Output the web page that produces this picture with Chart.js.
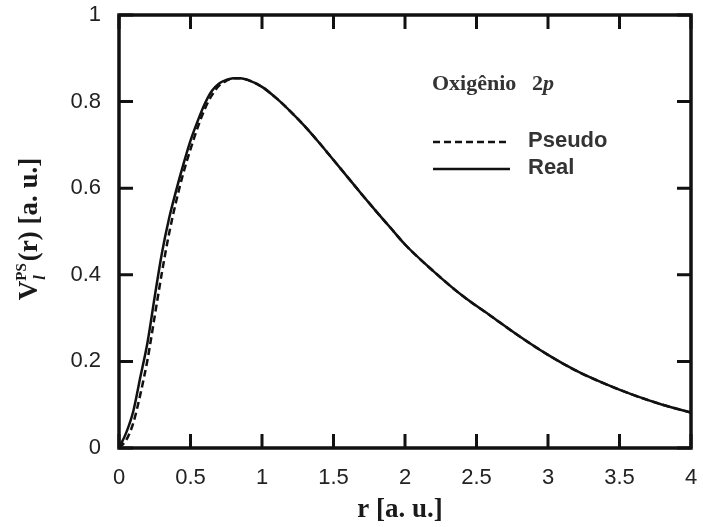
<!DOCTYPE html>
<html><head><meta charset="utf-8">
<script src="https://cdn.jsdelivr.net/npm/chart.js@4.4.0/dist/chart.umd.min.js"></script>
<style>html,body{margin:0;padding:0;background:#fff}</style>
</head><body>
<canvas id="c" width="703" height="527"></canvas>
<script>
// ---- data ----
const rValues = [0,0.05,0.1,0.15,0.2,0.25,0.3,0.35,0.4,0.45,0.5,0.55,0.6,0.65,0.7,0.75,0.8,0.85,0.9,1.0,1.1,1.2,1.3,1.4,1.5,1.6,1.7,1.8,1.9,2.0,2.2,2.4,2.6,2.8,3.0,3.2,3.4,3.6,3.8,4.0];
const realValues = [0,0.035,0.085,0.165,0.245,0.35,0.45,0.53,0.595,0.655,0.71,0.755,0.795,0.825,0.842,0.85,0.854,0.854,0.85,0.834,0.808,0.777,0.743,0.705,0.665,0.625,0.585,0.546,0.508,0.47,0.408,0.352,0.305,0.258,0.215,0.178,0.148,0.122,0.10,0.082];
const pseudoValues = [0,0.018,0.058,0.125,0.205,0.305,0.405,0.495,0.57,0.635,0.69,0.74,0.783,0.815,0.837,0.848,0.854,0.854,0.85,0.834,0.808,0.777,0.743,0.705,0.665,0.625,0.585,0.546,0.508,0.47,0.408,0.352,0.305,0.258,0.215,0.178,0.148,0.122,0.10,0.082];
const seriesLabels = ['Pseudo', 'Real'];
const xTickValues = [0,0.5,1,1.5,2,2.5,3,3.5,4];
const yTickValues = [0,0.2,0.4,0.6,0.8,1];
const xTitle = 'r [a. u.]';
const yTitleMain = 'V', yTitleSup = 'PS', yTitleSub = 'l', yTitleRest = '(r) [a. u.]';
const noteText = 'Oxigênio ', noteNum = '2', noteVar = 'p';

const toPts = (ys) => rValues.map((r, i) => ({x: r, y: ys[i]}));

const decor = {
  id: 'decor',
  afterDatasetsDraw(chart) {
    const {ctx, chartArea: a, scales: {x, y}} = chart;
    ctx.save();
    ctx.strokeStyle = '#111';
    ctx.lineCap = 'butt';
    ctx.lineWidth = 3;
    const tl = 14;
    xTickValues.forEach(v => {
      const px = x.getPixelForValue(v);
      ctx.beginPath(); ctx.moveTo(px, a.bottom); ctx.lineTo(px, a.bottom - tl);
      ctx.moveTo(px, a.top); ctx.lineTo(px, a.top + tl); ctx.stroke();
    });
    yTickValues.forEach(v => {
      const py = y.getPixelForValue(v);
      ctx.beginPath(); ctx.moveTo(a.left, py); ctx.lineTo(a.left + tl, py);
      ctx.moveTo(a.right, py); ctx.lineTo(a.right - tl, py); ctx.stroke();
    });
    ctx.lineWidth = 3.5;
    ctx.strokeRect(a.left, a.top, a.right - a.left, a.bottom - a.top);

    // x title
    ctx.fillStyle = '#1a1a1a';
    ctx.font = 'bold 27px "Liberation Serif", "DejaVu Serif", serif';
    ctx.textAlign = 'center'; ctx.textBaseline = 'alphabetic';
    ctx.fillText(xTitle, 400, 517);

    // y title (rotated)
    ctx.save();
    ctx.translate(37, 229);
    ctx.rotate(-Math.PI / 2);
    ctx.textAlign = 'left';
    const big = 'bold 27px "Liberation Serif", serif';
    const small = 'bold 15px "Liberation Serif", serif';
    const smallIt = 'italic bold 16px "Liberation Serif", serif';
    ctx.font = big; const wV = ctx.measureText(yTitleMain).width;
    ctx.font = small; const wS = ctx.measureText(yTitleSup).width;
    ctx.font = big; const wR = ctx.measureText(yTitleRest).width;
    const total = wV + wS + 2 + wR;
    let cx = -total / 2;
    ctx.font = big; ctx.fillText(yTitleMain, cx, 0); cx += wV;
    ctx.font = small; ctx.fillText(yTitleSup, cx, -11);
    ctx.font = smallIt; ctx.fillText(yTitleSub, cx + 1, 8);
    cx += wS + 2;
    ctx.font = big; ctx.fillText(yTitleRest, cx, 0);
    ctx.restore();

    // annotation "Oxigênio 2p"
    ctx.fillStyle = '#333';
    ctx.textAlign = 'left';
    ctx.font = 'bold 22px "Liberation Serif", serif';
    ctx.fillText(noteText, 432, 90);
    ctx.fillText(noteNum, 532, 90);
    const w2 = ctx.measureText(noteNum).width;
    ctx.font = 'italic bold 22px "Liberation Serif", serif';
    ctx.fillText(noteVar, 532 + w2, 90);

    // legend
    const rows = [142, 169];
    chart.data.datasets.forEach((ds, i) => {
      const ry = rows[i];
      ctx.strokeStyle = ds.borderColor;
      ctx.lineWidth = 2.5;
      ctx.setLineDash(ds.borderDash || []);
      ctx.beginPath(); ctx.moveTo(433, ry); ctx.lineTo(510, ry); ctx.stroke();
      ctx.setLineDash([]);
      ctx.fillStyle = '#333';
      ctx.font = 'bold 22px "Liberation Sans", Arial, sans-serif';
      ctx.textBaseline = 'middle';
      ctx.fillText(ds.label, 528, ry - 1);
      ctx.textBaseline = 'alphabetic';
    });
    ctx.restore();
  }
};

const tickFont = {family: '"Liberation Sans", Arial, sans-serif', size: 22};
new Chart(document.getElementById('c'), {
  type: 'scatter',
  data: {
    datasets: [
      {label: seriesLabels[0], data: toPts(pseudoValues), showLine: true, borderColor: '#111', borderWidth: 2.5, borderDash: [7, 4], pointRadius: 0, cubicInterpolationMode: 'monotone'},
      {label: seriesLabels[1], data: toPts(realValues), showLine: true, borderColor: '#111', borderWidth: 2.5, pointRadius: 0, cubicInterpolationMode: 'monotone'}
    ]
  },
  options: {
    responsive: false,
    animation: false,
    devicePixelRatio: 1,
    layout: {padding: {top: 15, right: 12, left: 0, bottom: 0}},
    plugins: {legend: {display: false}, tooltip: {enabled: false}},
    scales: {
      x: {
        type: 'linear', min: 0, max: 4,
        afterBuildTicks: (s) => { s.ticks = xTickValues.map(v => ({value: v})); },
        afterFit: (s) => { s.height = 79; s.paddingLeft = 0; s.paddingRight = 0; },
        grid: {display: false, drawTicks: false},
        border: {display: false},
        ticks: {padding: 17, color: '#222', font: tickFont, maxRotation: 0, callback: (v) => String(v)}
      },
      y: {
        type: 'linear', min: 0, max: 1,
        afterBuildTicks: (s) => { s.ticks = yTickValues.map(v => ({value: v})); },
        afterFit: (s) => { s.width = 119; s.paddingTop = 0; s.paddingBottom = 0; },
        grid: {display: false, drawTicks: false},
        border: {display: false},
        ticks: {padding: 18, color: '#222', font: tickFont, callback: (v) => String(v)}
      }
    }
  },
  plugins: [decor]
});
</script>
</body></html>
